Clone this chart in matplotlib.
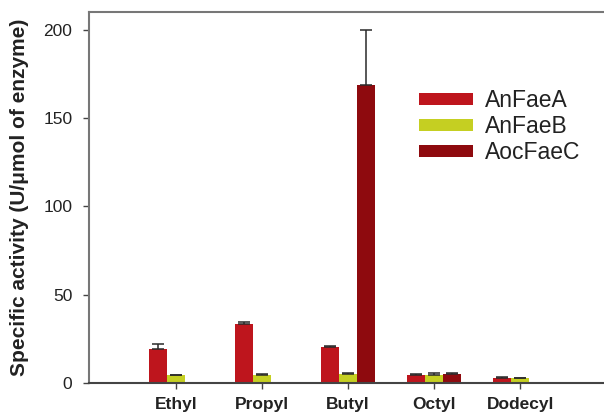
import numpy as np
import matplotlib
matplotlib.use("Agg")
import matplotlib.pyplot as plt

plt.rcParams["font.family"] = ["Liberation Sans", "DejaVu Sans"]

categories = ["Ethyl", "Propyl", "Butyl", "Octyl", "Dodecyl"]
series_names = ["AnFaeA", "AnFaeB", "AocFaeC"]
anfaea = [19.1, 33.4, 20.5, 4.6, 3.0]
anfaea_err = [2.8, 1.0, 0.3, 0.3, 0.3]
anfaeb = [4.3, 4.6, 5.3, 4.8, 2.8]
anfaeb_err = [0.5, 0.4, 0.4, 0.6, 0.3]
aocfaec = [np.nan, np.nan, 168.5, 5.1, np.nan]
aocfaec_err = [0.0, 0.0, 31.5, 0.3, 0.0]
y_ticks = [0, 50, 100, 150, 200]

colors = ["#BE151D", "#C5CF22", "#8E0A0E"]

fig = plt.figure(figsize=(6.04, 4.18), dpi=100)
ax = fig.add_axes([0.1474, 0.0837, 0.8526, 0.8876])

x = np.arange(len(categories))
width = 0.209
values = [anfaea, anfaeb, aocfaec]
errors = [anfaea_err, anfaeb_err, aocfaec_err]
for i, (vals, errs, c, name) in enumerate(zip(values, errors, colors, series_names)):
    vals = np.array(vals, dtype=float)
    errs = np.array(errs, dtype=float)
    pos = x + (i - 1) * width
    ax.bar(pos, vals, width, color=c, label=name, zorder=2)
    mask = ~np.isnan(vals) & (errs > 0)
    ax.errorbar(pos[mask], vals[mask], yerr=[np.zeros(mask.sum()), errs[mask]],
                fmt="none", ecolor="#2a2a2a", elinewidth=1.1, capsize=4.5,
                capthick=1.1, zorder=3)

ax.set_xlim(-1.007, 4.97)
ax.set_ylim(0, 210)
ax.set_xticks(x)
ax.set_xticklabels(categories, fontsize=12.5, fontweight="bold", color="#222222")
ax.set_yticks(y_ticks)
ax.set_yticklabels([str(v) for v in y_ticks], fontsize=12.5, color="#222222")
ax.tick_params(axis="both", direction="out", length=4, width=1, color="#444444")
ax.tick_params(axis="x", pad=6)
ax.tick_params(axis="y", pad=8)

ax.set_ylabel("Specific activity (U/\u03bcmol of enzyme)", fontsize=15,
              fontweight="bold", color="#222222", labelpad=10)

for side in ["left", "top"]:
    ax.spines[side].set_color("#777777")
    ax.spines[side].set_linewidth(1.5)
ax.spines["bottom"].set_color("#444444")
ax.spines["bottom"].set_linewidth(1.5)
ax.spines["right"].set_visible(False)

leg = ax.legend(loc="upper left", bbox_to_anchor=(0.641, 0.792), frameon=False,
                fontsize=16.5, handlelength=2.36, handleheight=0.48,
                handletextpad=0.52, labelspacing=0.13, borderaxespad=0,
                borderpad=0)
for t in leg.get_texts():
    t.set_color("#222222")

fig.savefig("out.png", dpi=100)
